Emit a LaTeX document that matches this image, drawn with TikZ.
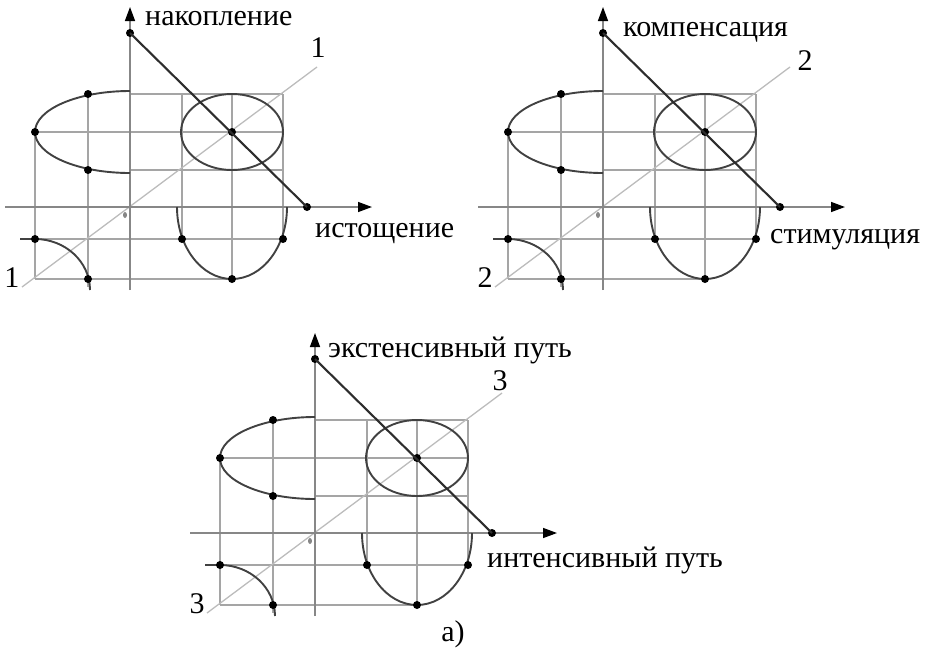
\documentclass[tikz,border=0pt]{standalone}
\usepackage{fontspec}
\setmainfont{Liberation Serif}
\usetikzlibrary{arrows.meta}
\definecolor{gridgray}{RGB}{165,165,165}
\definecolor{axisgray}{RGB}{135,135,135}
\definecolor{diaggray}{RGB}{188,188,188}
\definecolor{darkline}{RGB}{45,45,45}
\definecolor{curvecol}{RGB}{65,65,65}
\newcommand{\mypanel}{%
  % grid
  \draw[gridline] (35,132) -- (35,279);
  \draw[gridline] (88,93) -- (88,287);
  \draw[gridline] (182,94) -- (182,239);
  \draw[gridline] (232,94) -- (232,279);
  \draw[gridline] (283,94) -- (283,239);
  \draw[gridline] (130,94) -- (283,94);
  \draw[gridline] (35,132) -- (283,132);
  \draw[gridline] (130,170) -- (283,170);
  \draw[gridline] (20,239) -- (283,239);
  \draw[gridline] (35,279) -- (232,279);
  % light diagonal
  \coordinate (dA) at (22,287);
  \coordinate (dB) at (317,67);
  \draw[diagline] (dA) -- (dB);
  % axes
  \coordinate (yb) at (130,290);
  \coordinate (yt) at (130,7);
  \coordinate (xl) at (5,207);
  \coordinate (xr) at (372,207);
  \draw[axisline] (yb) -- (yt);
  \draw[axisline] (xl) -- (xr);
  \fill[axisgray] (125,215) ellipse[x radius=2pt, y radius=3pt];
  % curves
  \draw[curvecol, line width=1.9pt] (130,91) arc[start angle=90, end angle=270, x radius=95pt, y radius=41pt];
  \draw[curvecol, line width=1.9pt] (232,132) ellipse[x radius=51pt, y radius=38pt];
  \draw[curvecol, line width=1.9pt] (177,207) arc[start angle=180, end angle=360, x radius=55pt, y radius=72pt];
  \draw[curvecol, line width=1.9pt] (20,239) -- (35,239) arc[start angle=90, end angle=0, x radius=55pt, y radius=51pt];
  % dots
  \node[dot] (e1) at (88,94) {};
  \node[dot] (e2) at (35,132) {};
  \node[dot] (e3) at (88,170) {};
  \node[dot] (c) at (232,132) {};
  \node[dot] (t) at (130,33) {};
  \node[dot] (r) at (307,207) {};
  \node[dot] (q1) at (35,239) {};
  \node[dot] (q2) at (88,279) {};
  \node[dot] (u1) at (182,239) {};
  \node[dot] (u2) at (283,239) {};
  \node[dot] (u3) at (232,279) {};
  \draw[darkline, line width=2.1pt] (t.center) -- (r.center);
}
\begin{document}
\begin{tikzpicture}[x=1pt,y=-1pt,
  gridline/.style={draw=gridgray, line width=1.3pt},
  axisline/.style={draw=axisgray, line width=1.4pt, -{Triangle[length=14pt,width=10pt,color=black]}},
  diagline/.style={draw=diaggray, line width=1.3pt},
  dot/.style={circle, fill=black, inner sep=0pt, minimum size=8pt},
  lbl/.style={font=\fontsize{30}{34}\selectfont, inner sep=0pt}
]
\useasboundingbox (0,0) rectangle (935,654);
\begin{scope}[name prefix=p1-]
  \mypanel
\end{scope}
\begin{scope}[shift={(473,0)}, name prefix=p2-]
  \mypanel
\end{scope}
\begin{scope}[shift={(185,326)}, name prefix=p3-]
  \mypanel
\end{scope}
% labels panel 1
\node[lbl, anchor=base west] (l1a) at (145,25) {накопление};
\node[lbl, anchor=base west] (l1b) at (315,237) {истощение};
\node[lbl, anchor=base] (n1a) at (318,57) {1};
\node[lbl, anchor=base] (n1b) at (12,287) {1};
% labels panel 2
\node[lbl, anchor=base west] (l2a) at (623,36) {компенсация};
\node[lbl, anchor=base west] (l2b) at (770,243) {стимуляция};
\node[lbl, anchor=base] (n2a) at (805,70) {2};
\node[lbl, anchor=base] (n2b) at (485,287) {2};
% labels panel 3
\node[lbl, anchor=base west] (l3a) at (328,357) {экстенсивный путь};
\node[lbl, anchor=base west] (l3b) at (487,567) {интенсивный путь};
\node[lbl, anchor=base] (n3a) at (500,390) {3};
\node[lbl, anchor=base] (n3b) at (197,613) {3};
% caption
\node[lbl, anchor=base] (cap) at (453,641) {а)};
\end{tikzpicture}
\end{document}
